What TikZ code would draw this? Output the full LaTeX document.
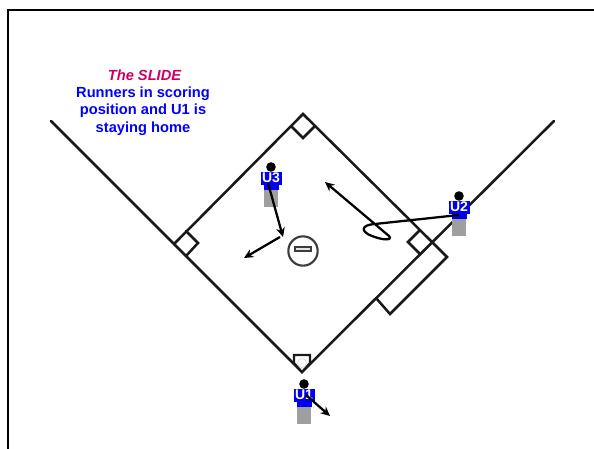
\documentclass[tikz,border=0pt]{standalone}
\usepackage{fontspec}
\setmainfont{Liberation Sans}
\usetikzlibrary{arrows.meta}
\definecolor{ublue}{RGB}{0,0,240}
\definecolor{slide}{RGB}{204,0,102}
\definecolor{txtblue}{RGB}{0,0,255}
\definecolor{ink}{RGB}{25,25,25}
\tikzset{
  x=0.75pt,y=-0.75pt,
  field/.style={draw=ink,line width=1.9pt,line cap=round,line join=miter},
  mv/.style={draw=black,line width=1.7pt,-{Stealth[length=7pt,width=6.5pt]}},
  cap1/.style={font=\bfseries\fontsize{11}{13}\selectfont,text=txtblue,align=center,inner sep=0pt},
  ulabel/.style={draw=ublue,fill=ublue,line width=0.5pt,minimum width=15pt,minimum height=9pt,inner sep=0pt,text=white,font=\bfseries\fontsize{10.5}{10.5}\selectfont},
}
\newcommand{\ump}[3]{%
  \begin{scope}[shift={(#2)}]
    \fill[gray!75] (-7,22) rectangle (-0.3,40);
    \fill[gray!75] (0.3,22) rectangle (7,40);
    \fill[ublue] (-7.5,5) rectangle (7.5,23);
    \fill[black] (0,0) circle (4.8);
    \node[ulabel] (#1) at (0,11) {#3};
  \end{scope}}
\begin{document}
\begin{tikzpicture}
\useasboundingbox (0,0) rectangle (594,449);
\fill[white] (0,0) rectangle (594,449);
\draw[black,line width=2.2pt] (8,449) -- (8,10) -- (594,10);
\node[inner sep=0pt,text=slide,font=\bfseries\itshape\fontsize{11}{13}\selectfont] (title) at (144.5,75) {The SLIDE};
\node[cap1] (body) at (143,111) {Runners in scoring\\position and U1 is\\staying home};
\coordinate (lf) at (51,121);
\coordinate (rf) at (554,121);
\coordinate (hp) at (302,372);
\coordinate (sb) at (303,114);
\coordinate (tb) at (174.5,243.5);
\coordinate (fb) at (432,242);
\draw[field] (lf) -- (hp) -- (rf);
\draw[field] (tb) -- (sb) -- (fb);
\draw[field] (186,231) -- (198,243) -- (186,256);
\draw[field] (420,230) -- (408,242) -- (420,254);
\draw[field] (291,126) -- (303,138) -- (315,126);
\draw[field] (fb) -- (447,257) -- (390,314) -- (376,298);
\draw[draw=ink,line width=1.6pt,fill=white] (294,355) -- (310,355) -- (310,363) -- (302,372) -- (294,363) -- cycle;
\draw[gray!35,line width=0.4pt,fill=white] (302,363) circle (4.5);
\node[circle,draw=ink!85,line width=1.6pt,minimum size=22pt,inner sep=0pt] (circ) at (303,251) {};
\node[draw=ink!85,line width=1.3pt,fill=gray!20,minimum width=12.5pt,minimum height=3.5pt,inner sep=0pt] (rub) at (303,249) {};
\ump{u3}{271,167}{U3}
\ump{u2}{459,196}{U2}
\ump{u1}{304,384}{U1}
\coordinate (a1) at (283,237);
\coordinate (a2) at (280,237);
\coordinate (a3) at (244,258);
\coordinate (a4) at (325,182);
\coordinate (a5) at (330,416);
\draw[mv] (268,183) -- (a1);
\draw[mv] (a2) -- (a3);
\draw[mv] (459,215) -- (375,224) .. controls (360,225) and (361,232) .. (372,236) .. controls (382,240) and (393,241) .. (389,236) -- (a4);
\draw[mv] (306,395) -- (a5);
\end{tikzpicture}
\end{document}
